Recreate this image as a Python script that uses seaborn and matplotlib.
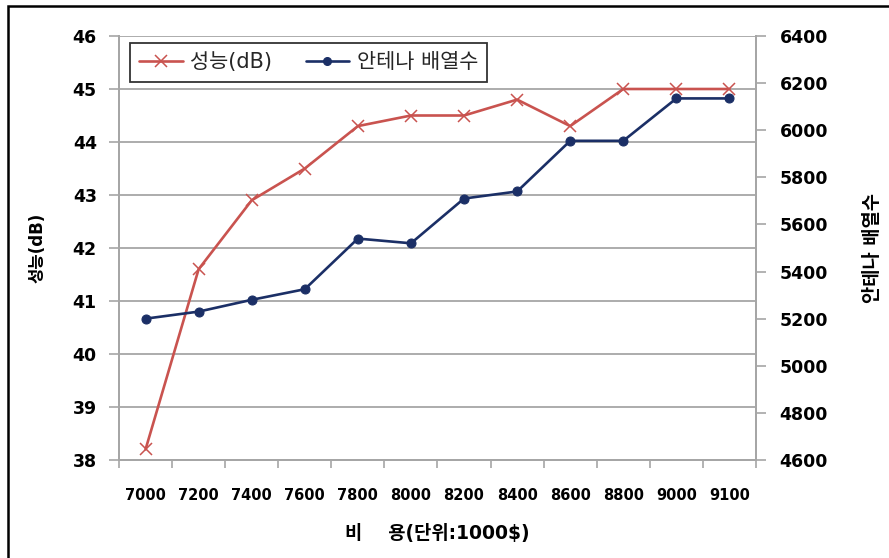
import matplotlib
matplotlib.use("Agg")
import matplotlib.pyplot as plt
from matplotlib.lines import Line2D
from matplotlib.patches import Rectangle
import seaborn as sns
import pandas as pd

# Cost categories (unit: 1000$)
costs = ["7000", "7200", "7400", "7600", "7800", "8000",
         "8200", "8400", "8600", "8800", "9000", "9100"]
# Performance in dB (left axis)
performance_db = [38.2, 41.6, 42.9, 43.5, 44.3, 44.5,
                  44.5, 44.8, 44.3, 45.0, 45.0, 45.0]
# Number of antenna array elements (right axis)
antenna_count = [5200, 5230, 5280, 5325, 5540, 5520,
                 5710, 5740, 5955, 5955, 6135, 6135]

left_ticks = [38, 39, 40, 41, 42, 43, 44, 45, 46]
right_ticks = [4600, 4800, 5000, 5200, 5400, 5600, 5800, 6000, 6200, 6400]

df = pd.DataFrame({"cost": costs, "perf": performance_db, "ant": antenna_count})

sns.set_theme(style="white")
plt.rcParams["font.family"] = ["DejaVu Sans", "Noto Sans CJK KR"]

RED = "#c9534f"
NAVY = "#1b2f66"
GRID = "#a6a6a6"

W, H = 889, 558
fig = plt.figure(figsize=(W / 100, H / 100), dpi=100)
ax = fig.add_axes([119 / W, 1 - 460 / H, (756 - 119) / W, (460 - 36) / H])
ax2 = ax.twinx()

sns.lineplot(data=df, x="cost", y="perf", ax=ax, color=RED, lw=1.9,
             marker="x", markersize=8.5, markeredgewidth=1.1,
             markeredgecolor=RED, sort=False)
sns.lineplot(data=df, x="cost", y="ant", ax=ax2, color=NAVY, lw=1.9,
             marker="o", markersize=6.5, markeredgecolor=NAVY, sort=False)

# Left axis
ax.set_ylim(38, 46)
ax.set_yticks(left_ticks)
ax.set_yticklabels([str(t) for t in left_ticks], fontsize=12.5, fontweight="bold")
ax.yaxis.grid(True, color=GRID, lw=1.3)
ax.set_axisbelow(True)
ax.tick_params(axis="y", which="major", length=7, width=1.2, color=GRID,
               pad=9, labelcolor="black", left=True)

# Categorical x axis: labels at centers, tick marks between categories
ax.set_xlim(-0.5, len(costs) - 0.5)
ax.set_xticks(range(len(costs)))
ax.set_xticklabels(costs, fontsize=10.5, fontweight="bold")
ax.set_xticks([i - 0.5 for i in range(len(costs) + 1)], minor=True)
ax.tick_params(axis="x", which="major", length=0, pad=20, labelcolor="black")
ax.tick_params(axis="x", which="minor", length=6, width=1.2, color=GRID,
               bottom=True)

# Right axis
ax2.set_ylim(4600, 6400)
ax2.set_yticks(right_ticks)
ax2.set_yticklabels([str(t) for t in right_ticks], fontsize=12.5, fontweight="bold")
ax2.tick_params(axis="y", length=7, width=1.2, color=GRID, pad=10,
                labelcolor="black", right=True)
ax2.grid(False)
ax2.set_ylabel("")

for a in (ax, ax2):
    for side in ("left", "right", "bottom"):
        a.spines[side].set_color(GRID)
        a.spines[side].set_linewidth(1.3)
    a.spines["top"].set_visible(False)

ax.set_xlabel("비    용(단위:1000$)", fontsize=13.5, fontweight="bold",
              color="black", labelpad=15)
ax.set_ylabel("성능(dB)", fontsize=12, fontweight="bold", color="black",
              labelpad=19)
fig.text(873 / W, 1 - 248 / H, "안테나 배열수", rotation=90, ha="center",
         va="center", fontsize=13.5, fontweight="bold", color="black")

handles = [
    Line2D([], [], color=RED, lw=1.9, marker="x", markersize=8.5,
           markeredgewidth=1.1),
    Line2D([], [], color=NAVY, lw=1.9, marker="o", markersize=5.5),
]
leg = ax.legend(handles, ["성능(dB)", "안테나 배열수"], ncol=2,
                loc="upper left", bbox_to_anchor=(0.017, 0.984),
                fontsize=15, frameon=True, fancybox=False,
                handlelength=2.1, handletextpad=0.35, columnspacing=1.6,
                borderpad=0.45, borderaxespad=0)
leg.get_frame().set_edgecolor("black")
leg.get_frame().set_linewidth(1.3)
leg.get_frame().set_facecolor("white")
leg.set_zorder(5)

# Outer chart border
fig.patches.append(Rectangle((8 / W, -0.1), 1.2, 1 - 6 / H + 0.1,
                             transform=fig.transFigure, fill=False,
                             edgecolor="black", lw=1.8))

fig.savefig("out.png", dpi=100, facecolor="white")
